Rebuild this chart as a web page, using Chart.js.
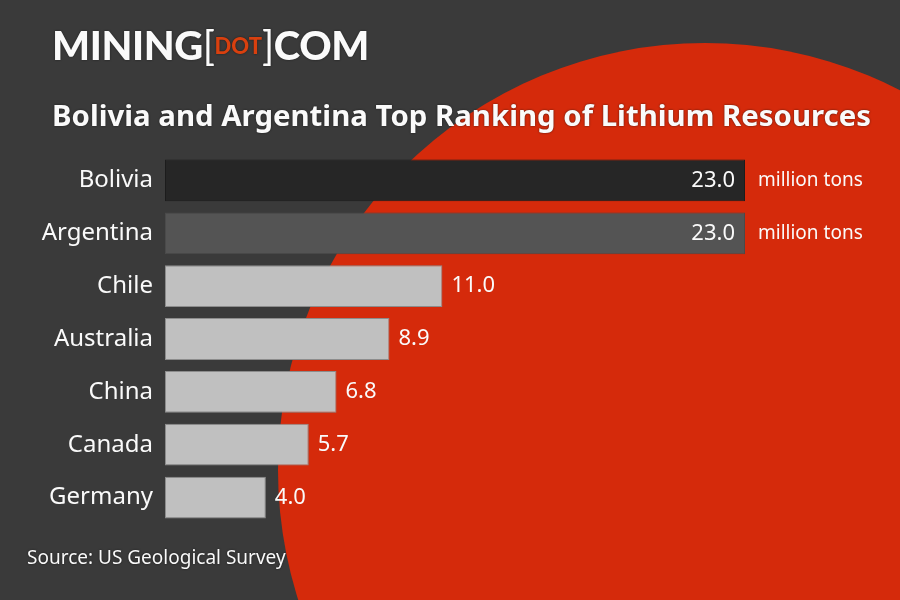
<!DOCTYPE html>
<html>
<head>
<meta charset="utf-8">
<script src="https://cdn.jsdelivr.net/npm/chart.js@4"></script>
<style>
  html, body { margin: 0; padding: 0; background: #3a3a3a; }
  #wrap { position: relative; width: 900px; height: 600px; overflow: hidden; }
  #chart { position: absolute; left: 0; top: 0; }
  .txt { position: absolute; color: #fafafa; font-family: 'Noto Sans', sans-serif; white-space: nowrap;
         text-shadow: 0 0 2px rgba(20,20,20,0.8); }
  #logo { left: 52px; top: 21px; font-family: Lato, sans-serif; font-weight: 900; font-size: 40px; letter-spacing: -0.4px; }
  #logo .br { font-weight: 400; font-size: 40px; }
  #logo .dot { color: #d8400f; font-size: 22px; vertical-align: 6px; letter-spacing: 0; }
  #title { left: 52px; top: 95px; font-weight: 700; font-size: 29.4px; }
  #source { left: 27px; top: 544px; font-size: 19px; }
</style>
</head>
<body>
<div id="wrap">
  <canvas id="chart" width="900" height="600"></canvas>
  <div id="logo" class="txt">MINING<span class="br">[</span><span class="dot">DOT</span><span class="br">]</span>COM</div>
  <div id="title" class="txt">Bolivia and Argentina Top Ranking of Lithium Resources</div>
  <div id="source" class="txt">Source: US Geological Survey</div>
</div>
<script>
  // ── data ────────────────────────────────────────────────────────────────
  const countries = ['Bolivia', 'Argentina', 'Chile', 'Australia', 'China', 'Canada', 'Germany'];
  const resources = [23.0, 23.0, 11.0, 8.9, 6.8, 5.7, 4.0];
  const unitLabel = 'million tons';

  const BG    = '#3a3a3a';
  const RED   = '#d52a0b';
  const barFill   = ['#262626', '#545454', '#c0c0c0', '#c0c0c0', '#c0c0c0', '#c0c0c0', '#c0c0c0'];
  const barBorder = ['#1c1c1c', '#4a4a4a', '#8c8c8c', '#8c8c8c', '#8c8c8c', '#8c8c8c', '#8c8c8c'];

  // background + big red circle behind the bars
  const backdrop = {
    id: 'backdrop',
    beforeDraw(chart) {
      const ctx = chart.ctx;
      ctx.save();
      ctx.fillStyle = BG;
      ctx.fillRect(0, 0, chart.width, chart.height);
      ctx.fillStyle = RED;
      ctx.beginPath();
      ctx.arc(705, 470, 427, 0, Math.PI * 2);
      ctx.fill();
      ctx.restore();
    },
  };

  // value labels on / after the bars
  const valueLabels = {
    id: 'valueLabels',
    afterDatasetsDraw(chart) {
      const ctx = chart.ctx;
      const meta = chart.getDatasetMeta(0);
      ctx.save();
      ctx.fillStyle = '#fafafa';
      ctx.textBaseline = 'middle';
      meta.data.forEach((bar, i) => {
        const txt = resources[i].toFixed(1);
        if (i < 2) {
          ctx.font = "22px 'Noto Sans', sans-serif";
          ctx.textAlign = 'right';
          ctx.fillText(txt, bar.x - 10, bar.y);
          ctx.font = "19px 'Noto Sans', sans-serif";
          ctx.textAlign = 'left';
          ctx.fillText(unitLabel, bar.x + 13, bar.y);
        } else {
          ctx.font = "22px 'Noto Sans', sans-serif";
          ctx.textAlign = 'left';
          ctx.fillText(txt, bar.x + 9, bar.y);
        }
      });
      ctx.restore();
    },
  };

  new Chart(document.getElementById('chart'), {
    type: 'bar',
    data: {
      labels: countries,
      datasets: [{
        data: resources,
        backgroundColor: barFill,
        borderColor: barBorder,
        borderWidth: 1,
        borderSkipped: false,
        categoryPercentage: 1,
        barPercentage: 0.79,
      }],
    },
    options: {
      indexAxis: 'y',
      responsive: false,
      animation: false,
      layout: { padding: { top: 154, bottom: 76, left: 0, right: 155 } },
      plugins: {
        legend: { display: false },
        tooltip: { enabled: false },
      },
      scales: {
        x: { display: false, min: 0, max: 23 },
        y: {
          grid: { display: false },
          border: { display: false },
          afterFit: s => { s.width = 165; },
          ticks: {
            color: '#fafafa',
            padding: 4,
            font: { family: "'Noto Sans', sans-serif", size: 24 },
          },
        },
      },
    },
    plugins: [backdrop, valueLabels],
  });
</script>
</body>
</html>
